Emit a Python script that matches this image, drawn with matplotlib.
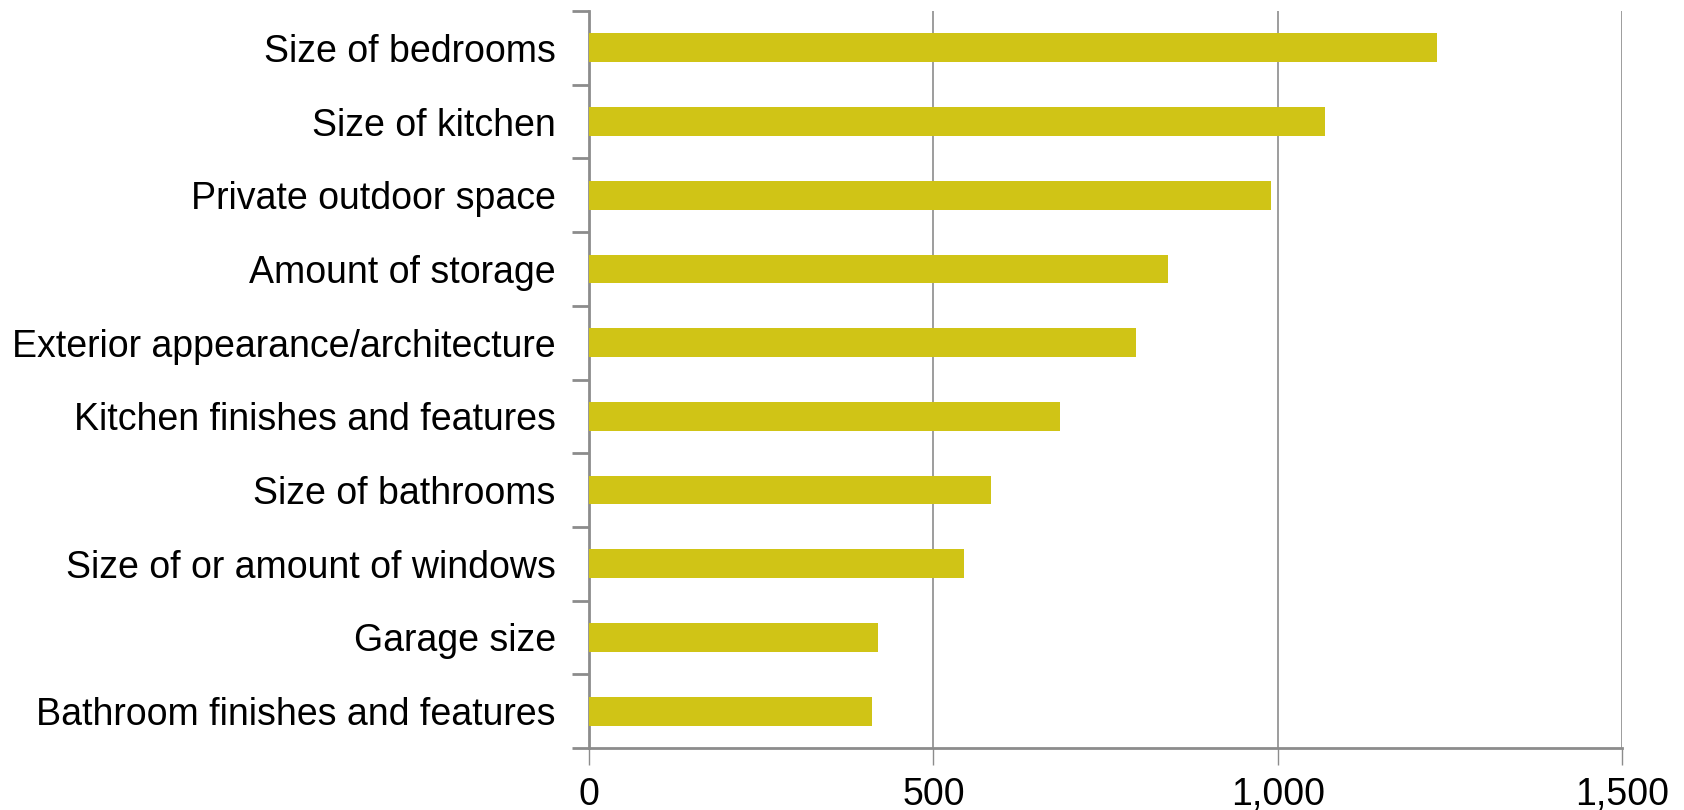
import matplotlib
matplotlib.use("Agg")
from matplotlib import pyplot as plt
from matplotlib.ticker import FixedLocator, FuncFormatter
import numpy as np

categories = [
    "Size of bedrooms",
    "Size of kitchen",
    "Private outdoor space",
    "Amount of storage",
    "Exterior appearance/architecture",
    "Kitchen finishes and features",
    "Size of bathrooms",
    "Size of or amount of windows",
    "Garage size",
    "Bathroom finishes and features",
]
values = [1232, 1068, 990, 840, 794, 684, 584, 545, 419, 411]
x_ticks = [0, 500, 1000, 1500]

BARCOLOR = "#D0C416"
GRIDCOLOR = "#8c8c8c"

plt.rcParams["font.family"] = ["Liberation Sans", "DejaVu Sans"]

fig = plt.figure(figsize=(16.84, 8.10), dpi=100)
ax = fig.add_axes([0.3498, 0.0765, 0.6134, 0.9099])

pos = np.arange(len(categories))
ax.barh(pos, values, height=0.39, color=BARCOLOR, zorder=3)

ax.set_ylim(len(categories) - 0.5, -0.5)
ax.set_xlim(0, 1500)

ax.set_yticks(pos)
ax.set_yticklabels(categories, fontsize=27)
ax.yaxis.set_minor_locator(FixedLocator(np.arange(-0.5, len(categories), 1)))
ax.tick_params(axis="y", which="major", length=0, pad=24)
ax.tick_params(axis="y", which="minor", length=12, width=2, color=GRIDCOLOR)

ax.set_xticks(x_ticks)
ax.xaxis.set_major_formatter(FuncFormatter(lambda v, _: f"{int(v):,}"))
ax.tick_params(axis="x", length=12, width=1, color=GRIDCOLOR, labelsize=27, pad=9)

ax.grid(axis="x", color=GRIDCOLOR, linewidth=1.2, zorder=0)
for s in ["top", "right"]:
    ax.spines[s].set_visible(False)
for s in ["left", "bottom"]:
    ax.spines[s].set_color(GRIDCOLOR)
    ax.spines[s].set_linewidth(2)

fig.savefig("out.png", dpi=100)
